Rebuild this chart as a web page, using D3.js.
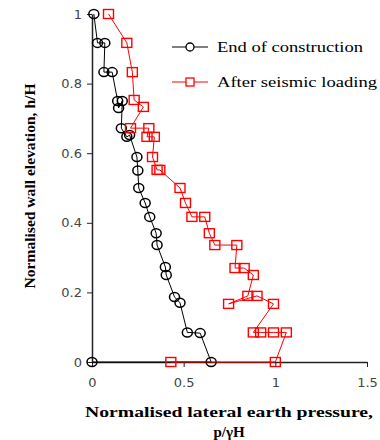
<!DOCTYPE html>
<html>
<head>
<meta charset="utf-8">
<script src="https://cdn.jsdelivr.net/npm/d3@7"></script>
<style>
  body { margin: 0; background: #fff; }
  svg { display: block; }
</style>
</head>
<body>
<svg width="380" height="440"></svg>
<script>
// end of construction (black circles): [p/yH, h/H]
var endConstruction = [
  [0.01, 1.0], [0.03, 0.917], [0.07, 0.917], [0.065, 0.833], [0.11, 0.833],
  [0.14, 0.75], [0.145, 0.73], [0.165, 0.75], [0.16, 0.672], [0.19, 0.647],
  [0.205, 0.652], [0.245, 0.589], [0.25, 0.55], [0.255, 0.5], [0.29, 0.457],
  [0.315, 0.417], [0.35, 0.37], [0.355, 0.336], [0.4, 0.273], [0.405, 0.25],
  [0.45, 0.187], [0.48, 0.17], [0.52, 0.085], [0.59, 0.083], [0.65, 0.0], [0.0, 0.0]
];

// after seismic loading (red squares)
var afterSeismic = [
  [0.09, 1.0], [0.19, 0.917], [0.22, 0.833], [0.23, 0.753], [0.28, 0.733],
  [0.21, 0.672], [0.31, 0.672], [0.30, 0.647], [0.34, 0.647], [0.33, 0.589],
  [0.355, 0.552], [0.37, 0.552], [0.48, 0.5], [0.51, 0.457], [0.545, 0.417],
  [0.615, 0.417], [0.64, 0.37], [0.67, 0.336], [0.79, 0.336], [0.78, 0.27],
  [0.83, 0.27], [0.88, 0.25], [0.85, 0.19], [0.745, 0.167], [0.90, 0.19],
  [0.99, 0.167], [0.88, 0.085], [0.92, 0.085], [0.99, 0.085], [1.06, 0.085],
  [1.0, 0.0], [0.43, 0.0]
];

var xTicks = [0, 0.5, 1, 1.5];
var yTicks = [0, 0.2, 0.4, 0.6, 0.8, 1];
var seriesNames = ["End of construction", "After seismic loading"];

var svg = d3.select("svg");

var x = d3.scaleLinear().domain([0, 1.5]).range([92, 367]);
var y = d3.scaleLinear().domain([0, 1]).range([362, 14]);

var line = d3.line()
  .x(function(d) { return x(d[0]) })
  .y(function(d) { return y(d[1]) });

// axes
var xAxis = svg.append("g")
  .attr("transform", "translate(0," + y(0) + ")")
  .call(d3.axisBottom(x).tickValues(xTicks).tickSize(5).tickSizeOuter(0)
    .tickFormat(function(d) { return d }));

var yAxis = svg.append("g")
  .attr("transform", "translate(" + x(0) + ",0)")
  .call(d3.axisLeft(y).tickValues(yTicks).tickSize(5).tickSizeOuter(0)
    .tickFormat(function(d) { return d }));

[xAxis, yAxis].forEach(function(a) {
  a.select(".domain").attr("stroke", "#222").attr("stroke-width", 1.5);
  a.selectAll(".tick line").attr("stroke", "#222");
  a.selectAll(".tick text")
    .attr("fill", "#444")
    .style("font-family", "DejaVu Sans")
    .style("font-size", "13px");
});
xAxis.selectAll(".tick text").attr("dy", "1.3em");
yAxis.selectAll(".tick text").attr("x", -10);

// series
function drawSeries(data, color, shape) {
  svg.append("path")
    .datum(data)
    .attr("fill", "none")
    .attr("stroke", color)
    .attr("stroke-width", 1)
    .attr("d", line);

  var g = svg.append("g");
  if (shape == "circle") {
    g.selectAll("ellipse").data(data).enter().append("ellipse")
      .attr("cx", function(d) { return x(d[0]) })
      .attr("cy", function(d) { return y(d[1]) })
      .attr("rx", 5)
      .attr("ry", 4.5)
      .attr("fill", "none")
      .attr("stroke", color)
      .attr("stroke-width", 1.5);
  } else {
    g.selectAll("rect").data(data).enter().append("rect")
      .attr("x", function(d) { return x(d[0]) - 5 })
      .attr("y", function(d) { return y(d[1]) - 4.5 })
      .attr("width", 10)
      .attr("height", 9)
      .attr("fill", "none")
      .attr("stroke", color)
      .attr("stroke-width", 1.4);
  }
}

drawSeries(endConstruction, "#000", "circle");
drawSeries(afterSeismic, "#f00", "square");

// legend
var legend = svg.append("g");
[["#000", "circle", 47], ["#f00", "square", 82]].forEach(function(l, i) {
  legend.append("line")
    .attr("x1", 172).attr("x2", 208)
    .attr("y1", l[2]).attr("y2", l[2])
    .attr("stroke", l[0]);
  if (l[1] == "circle") {
    legend.append("circle").attr("cx", 190).attr("cy", l[2]).attr("r", 4)
      .attr("fill", "#fff").attr("stroke", l[0]).attr("stroke-width", 1.3);
  } else {
    legend.append("rect").attr("x", 186).attr("y", l[2] - 4).attr("width", 8).attr("height", 8)
      .attr("fill", "#fff").attr("stroke", l[0]).attr("stroke-width", 1.3);
  }
  legend.append("text")
    .attr("x", 217).attr("y", l[2] + 5)
    .attr("textLength", i == 0 ? 146 : 160)
    .attr("lengthAdjust", "spacingAndGlyphs")
    .style("font-family", "Liberation Serif")
    .style("font-size", "15px")
    .attr("fill", "#000")
    .text(seriesNames[i]);
});

// axis titles
svg.append("text")
  .attr("x", 229).attr("y", 417)
  .attr("text-anchor", "middle")
  .attr("textLength", 288)
  .attr("lengthAdjust", "spacingAndGlyphs")
  .style("font-family", "Liberation Serif")
  .style("font-weight", "bold")
  .style("font-size", "15px")
  .text("Normalised lateral earth pressure,");

svg.append("text")
  .attr("x", 229).attr("y", 437)
  .attr("text-anchor", "middle")
  .style("font-family", "Liberation Serif")
  .style("font-weight", "bold")
  .style("font-size", "15px")
  .text("p/γH");

svg.append("text")
  .attr("transform", "translate(35,186) rotate(-90)")
  .attr("text-anchor", "middle")
  .attr("textLength", 205)
  .attr("lengthAdjust", "spacingAndGlyphs")
  .style("font-family", "Liberation Serif")
  .style("font-weight", "bold")
  .style("font-size", "15px")
  .text("Normalised wall elevation, h/H");
</script>
</body>
</html>
